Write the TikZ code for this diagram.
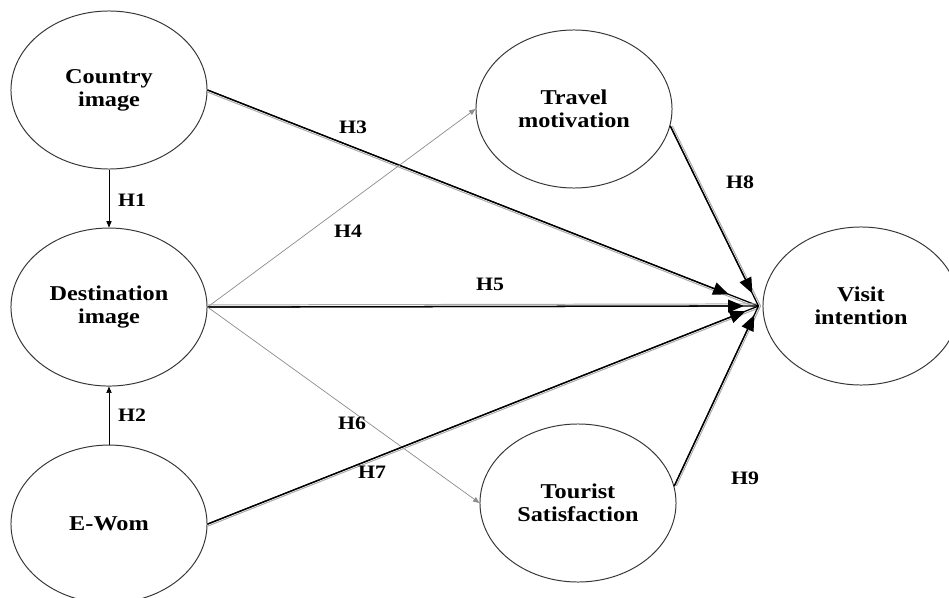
\documentclass[tikz,border=0pt]{standalone}
\usepackage{fontspec}
\setmainfont{Liberation Serif}[FakeStretch=1.15]
\usetikzlibrary{shapes.geometric, arrows.meta, positioning}
\definecolor{outlinegray}{RGB}{55, 55, 55}
\definecolor{pathgray}{RGB}{140, 140, 140}
\definecolor{shadowgray}{RGB}{170, 170, 170}

\begin{document}
\begin{tikzpicture}[
    x=0.025cm, y=-0.025cm,
    latent/.style={draw=outlinegray, ellipse, line width=0.7pt, minimum width=4.9cm, minimum height=3.95cm, inner sep=0pt, align=center, font=\fontsize{15}{16.5}\selectfont\bfseries},
    hyp/.style={font=\fontsize{13.5}{15}\selectfont\bfseries},
    small arrow/.style={-{Triangle[length=1.6mm, width=1.3mm]}, line width=0.5pt},
    faint arrow/.style={small arrow, draw=pathgray},
    main arrow/.style={-{Triangle[length=3.9mm, width=3.2mm]}, line width=0.9pt, shorten >=#1,
        preaction={draw, -, shorten >=0pt, line width=0.9pt}},
    shadow/.style={preaction={draw=shadowgray, -, shorten >=0pt, line width=0.7pt, transform canvas={shift={#1}}}}
]
\useasboundingbox (0,0) rectangle (949,598);

% constructs
\node[latent] (country) at (109,90) {Country\\image};
\node[latent, below=1.45cm of country] (dest) {Destination\\image};
\node[latent, below=1.45cm of dest] (ewom) {E-Wom};
\node[latent] (travel) at (574,109) {Travel\\motivation};
\node[latent] (tourist) at (578,503) {Tourist\\Satisfaction};
\node[latent] (visit) at (861,306) {Visit\\intention};

\coordinate (conv) at ([xshift=-0.1cm]visit.west);

% paths
\draw[small arrow] (country) -- (dest);
\draw[small arrow] (ewom) -- (dest);
\draw[main arrow=0.8cm, shadow={(0,-1.5pt)}] (country.east) -- (conv);
\draw[faint arrow] (dest.east) -- (travel.west);
\draw[main arrow=0.37cm, shadow={(0,1.5pt)}] (dest.east) -- (conv);
\draw[faint arrow] (dest.east) -- (tourist.west);
\draw[main arrow=0.35cm, shadow={(0,-1.5pt)}] (ewom.east) -- (conv);
\draw[main arrow=0.35cm, shadow={(1.5pt,0)}] (travel.-10) -- (conv);
\draw[main arrow=0.25cm, shadow={(1.5pt,0)}] (tourist.10) -- (conv);

% hypotheses
\node[hyp] (h1) at (132,200) {H1};
\node[hyp] (h2) at (132,415) {H2};
\node[hyp] (h3) at (353,127) {H3};
\node[hyp] (h4) at (348,231) {H4};
\node[hyp] (h5) at (490,284) {H5};
\node[hyp] (h6) at (352,423) {H6};
\node[hyp] (h7) at (372,472) {H7};
\node[hyp] (h8) at (740,182) {H8};
\node[hyp] (h9) at (745,478) {H9};

\end{tikzpicture}
\end{document}
